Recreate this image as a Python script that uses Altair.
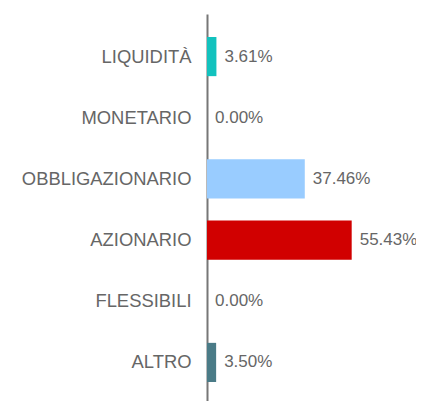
import altair as alt
import pandas as pd

categories = ["LIQUIDITÀ", "MONETARIO", "OBBLIGAZIONARIO", "AZIONARIO", "FLESSIBILI", "ALTRO"]
values = [3.61, 0.00, 37.46, 55.43, 0.00, 3.50]
colors = ["#12C2BE", "#FFFFFF", "#99CCFF", "#D10000", "#FFFFFF", "#4A7B87"]

df = pd.DataFrame({"cat": categories, "val": values})
FONT = "Liberation Sans, Arial, Helvetica, sans-serif"

y = alt.Y(
    "cat:N",
    sort=categories,
    scale=alt.Scale(paddingInner=0.36, paddingOuter=0.376),
    axis=alt.Axis(
        title=None,
        ticks=False,
        grid=False,
        domain=True,
        domainColor="#777777",
        domainWidth=2,
        labelFont=FONT,
        labelFontSize=18.4,
        labelColor="#666666",
        labelPadding=16,
        labelLimit=300,
    ),
)
x = alt.X("val:Q", scale=alt.Scale(domain=[0, 77]), axis=None)

bars = alt.Chart(df).mark_bar().encode(
    x=x,
    y=y,
    color=alt.Color("cat:N", scale=alt.Scale(domain=categories, range=colors), legend=None),
)

labels = alt.Chart(df).transform_calculate(
    lab="format(datum.val, '.2f') + '%'"
).mark_text(
    align="left", baseline="middle", dx=8, font=FONT, fontSize=17, color="#666666"
).encode(x=x, y=y, text="lab:N")

chart = (bars + labels).properties(
    width=201,
    height=391,
    autosize=alt.AutoSizeParams(type="none"),
    padding={"left": 199, "top": 6, "right": 8, "bottom": 0},
).configure_view(stroke=None)

chart.save("out.html", embed_options={"renderer": "svg", "actions": False})
